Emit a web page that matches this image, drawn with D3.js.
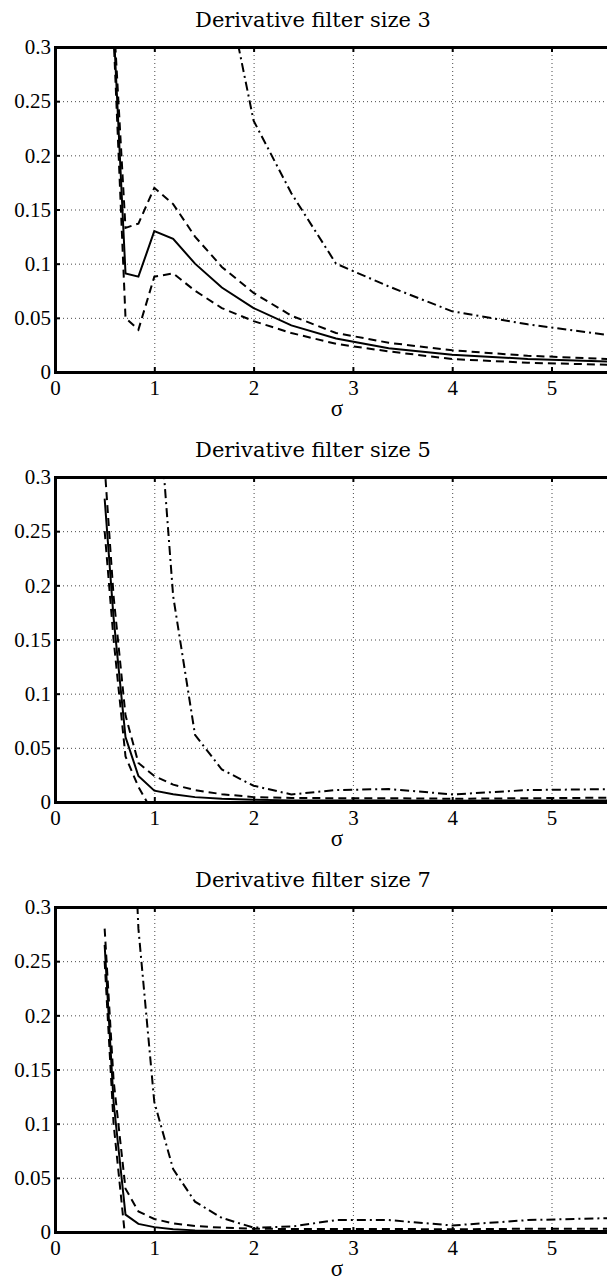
<!DOCTYPE html>
<html>
<head>
<meta charset="utf-8">
<script src="https://cdn.jsdelivr.net/npm/d3@7"></script>
<style>
  body { margin: 0; background: #fff; }
  svg { display: block; }
</style>
</head>
<body>
<svg id="chart"></svg>
<script>
const width = 607,
    height = 1282;
const left = 55;
const plotH = 325;
const panelTops = [47, 477, 907];
const serif = "'Liberation Serif', 'Times New Roman', Times, serif";

// sigma values (x) shared by every curve
const sigma = [0.5, 0.59, 0.71, 0.84, 1.0, 1.19, 1.41, 1.68, 2.0, 2.38, 2.83, 3.36, 4.0, 4.76, 5.66];

const titles = ["Derivative filter size 3", "Derivative filter size 5", "Derivative filter size 7"];

// size 3
const mean3 = [0.45, 0.32, 0.091, 0.088, 0.130, 0.123, 0.100, 0.078, 0.059, 0.043, 0.031, 0.022, 0.016, 0.012, 0.0095];
const upper3 = [0.47, 0.33, 0.133, 0.137, 0.170, 0.155, 0.125, 0.097, 0.073, 0.052, 0.036, 0.027, 0.020, 0.015, 0.0117];
const lower3 = [0.43, 0.31, 0.050, 0.039, 0.088, 0.091, 0.075, 0.059, 0.047, 0.036, 0.026, 0.019, 0.012, 0.0085, 0.0065];
const other3 = [0.9, 0.8, 0.7, 0.6, 0.55, 0.5, 0.44, 0.376, 0.232, 0.165, 0.100, 0.079, 0.056, 0.044, 0.033];

// size 5
const mean5 = [0.28, 0.17, 0.060, 0.024, 0.0105, 0.0072, 0.0045, 0.003, 0.002, 0.0015, 0.0015, 0.0015, 0.0012, 0.0013, 0.0013];
const upper5 = [0.31, 0.19, 0.080, 0.036, 0.024, 0.016, 0.011, 0.0072, 0.0045, 0.0038, 0.0035, 0.0035, 0.003, 0.0035, 0.004];
const lower5 = [0.25, 0.15, 0.042, 0.014, -0.012, -0.004, -0.003, -0.002, -0.001, -0.001, -0.001, -0.001, -0.001, -0.001, -0.001];
const other5 = [0.9, 0.8, 0.7, 0.55, 0.42, 0.19, 0.062, 0.030, 0.015, 0.007, 0.011, 0.012, 0.007, 0.011, 0.012];

// size 7
const mean7 = [0.265, 0.12, 0.016, 0.0075, 0.0045, 0.0025, 0.0015, 0.001, 0.001, 0.001, 0.001, 0.001, 0.001, 0.001, 0.001];
const upper7 = [0.28, 0.14, 0.040, 0.019, 0.012, 0.008, 0.0055, 0.004, 0.003, 0.0028, 0.0028, 0.0028, 0.0025, 0.003, 0.003];
const lower7 = [0.25, 0.10, -0.008, -0.004, -0.003, -0.003, -0.0025, -0.002, -0.001, -0.001, -0.001, -0.001, -0.001, -0.001, -0.001];
const other7 = [0.95, 0.85, 0.55, 0.28, 0.12, 0.058, 0.028, 0.013, 0.004, 0.005, 0.011, 0.011, 0.006, 0.011, 0.013];

const yTicks = [0, 0.05, 0.1, 0.15, 0.2, 0.25, 0.3];
const xTicks = [0, 1, 2, 3, 4, 5];

const panels = [
    [mean3, upper3, lower3, other3],
    [mean5, upper5, lower5, other5],
    [mean7, upper7, lower7, other7],
];
// solid, dashed, dashed, dash-dot
const dashes = [null, "8,5", "8,5", "9,4,2,4"];

const svg = d3.select("svg#chart")
    .attr("width", width)
    .attr("height", height);

const x = d3.scaleLinear().domain([0, 6]).range([0, 6 * 99.3]);
const y = d3.scaleLinear().domain([0, 0.3]).range([plotH, 0]);
const plotW = x(6);

const line = d3.line()
    .x((d, i) => x(sigma[i]))
    .y(d => y(d));

panels.forEach((series, k) => {
    const g = svg.append("g").attr("transform", `translate(${left},${panelTops[k]})`);

    g.append("clipPath").attr("id", "clip" + k)
        .append("rect").attr("x", 0).attr("y", 0).attr("width", plotW).attr("height", plotH);

    // dotted grid
    const gx = g.append("g").attr("transform", `translate(0,${plotH})`)
        .call(d3.axisBottom(x).tickValues(xTicks.slice(1)).tickSize(-plotH).tickFormat(""));
    const gy = g.append("g")
        .call(d3.axisLeft(y).tickValues(yTicks.slice(1, -1)).tickSize(-plotW).tickFormat(""));
    [gx, gy].forEach(a => {
        a.select(".domain").remove();
        a.selectAll("line").attr("stroke", "#333").attr("stroke-width", 0.9).attr("stroke-dasharray", "1,3");
    });

    // curves
    const curves = g.append("g").attr("clip-path", `url(#clip${k})`);
    series.forEach((vals, j) => {
        curves.append("path")
            .datum(vals)
            .attr("d", line)
            .attr("fill", "none")
            .attr("stroke", "#000")
            .attr("stroke-width", 2)
            .attr("stroke-dasharray", dashes[j]);
    });

    // axes: labels + inward ticks
    const ay = g.append("g").call(d3.axisLeft(y).tickValues(yTicks).tickSize(-5).tickPadding(4)
        .tickFormat(d => d === 0 ? "0" : d3.format("~g")(d)));
    ay.selectAll("text").attr("dy", "0.32em");
    const ax = g.append("g").attr("transform", `translate(0,${plotH})`)
        .call(d3.axisBottom(x).tickValues(xTicks).tickSize(-5).tickPadding(8).tickFormat(d3.format("d")));
    const at = g.append("g").call(d3.axisTop(x).tickValues(xTicks).tickSize(-5).tickFormat(""));
    [ay, ax, at].forEach(a => {
        a.attr("font-family", serif).attr("font-size", 21);
        a.select(".domain").attr("stroke", "#000").attr("stroke-width", 3);
        a.selectAll(".tick line").attr("stroke", "#000").attr("stroke-width", 2);
        a.selectAll(".tick text").attr("fill", "#000");
    });
    ay.selectAll(".tick").filter(d => d === 0 || d === 0.3).select("line").remove();

    g.append("text")
        .attr("x", 258)
        .attr("y", -20)
        .attr("text-anchor", "middle")
        .attr("font-family", "'DejaVu Serif', serif")
        .attr("font-size", 21)
        .text(titles[k]);

    g.append("text")
        .attr("x", 282)
        .attr("y", plotH + 44)
        .attr("text-anchor", "middle")
        .attr("font-family", serif)
        .attr("font-size", 23)
        .text("σ");
});
</script>
</body>
</html>
